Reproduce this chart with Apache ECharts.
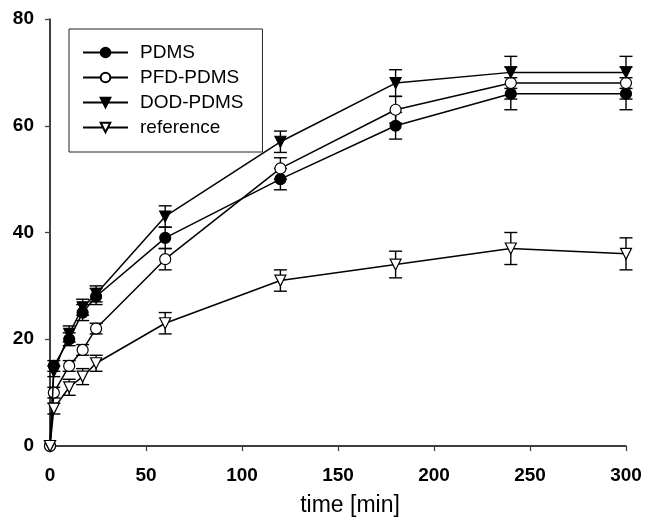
<!DOCTYPE html>
<html>
<head>
<meta charset="utf-8">
<script src="https://cdn.jsdelivr.net/npm/echarts@6/dist/echarts.min.js"></script>
<style>
  html, body { margin: 0; padding: 0; background: #fff; }
  #chart { width: 645px; height: 522px; }
</style>
</head>
<body>
<div id="chart"></div>
<script>
// time points [min]
var times = [0, 2, 10, 17, 24, 60, 120, 180, 240, 300];

// values and error bars
var pdms     = [0, 15, 20, 25, 28, 39, 50, 60, 66, 66];
var pdmsErr  = [0, 1, 1.2, 1.5, 1.5, 2, 2, 2.5, 3, 3];
var pfd      = [0, 10, 15, 18, 22, 35, 52, 63, 68, 68];
var pfdErr   = [0, 1, 1, 1, 1, 2, 2, 2.5, 3, 3];
var dod      = [0, 14, 21, 26, 28.5, 43, 57, 68, 70, 70];
var dodErr   = [0, 1, 1.5, 1.5, 1.5, 2, 2, 2.5, 3, 3];
var refv     = [0, 7, 11, 13, 15.5, 23, 31, 34, 37, 36];
var refErr   = [0, 1, 1.5, 1.5, 1.5, 2, 2, 2.5, 3, 3];

var xTicks = [0, 50, 100, 150, 200, 250, 300];
var yTicks = [0, 20, 40, 60, 80];

var myChart = echarts.init(document.getElementById('chart'));

function pts(vals) {
    return times.map(function (t, i) { return [t, vals[i]]; });
}
function errPts(vals, errs) {
    return times.map(function (t, i) { return [t, vals[i], errs[i]]; });
}

// vertical bar with caps
function renderErr(params, api) {
    var x = api.value(0), y = api.value(1), e = api.value(2);
    if (!e) return;
    var top = api.coord([x, y + e]);
    var bot = api.coord([x, y - e]);
    var w = 6.5;
    var st = { stroke: '#000', lineWidth: 1.4 };
    return {
        type: 'group',
        children: [
            { type: 'line', shape: { x1: top[0], y1: top[1], x2: bot[0], y2: bot[1] }, style: st },
            { type: 'line', shape: { x1: top[0] - w, y1: top[1], x2: top[0] + w, y2: top[1] }, style: st },
            { type: 'line', shape: { x1: bot[0] - w, y1: bot[1], x2: bot[0] + w, y2: bot[1] }, style: st }
        ]
    };
}

function errSeries(vals, errs, z) {
    return {
        type: 'custom',
        renderItem: renderErr,
        data: errPts(vals, errs),
        encode: { x: 0, y: 1 },
        clip: false,
        silent: true,
        z: z
    };
}

function lineSeries(name, vals, symbol, fill, rot, size, z) {
    return {
        name: name,
        type: 'line',
        data: pts(vals),
        symbol: symbol,
        symbolSize: size,
        symbolRotate: rot,
        showAllSymbol: true,
        clip: false,
        lineStyle: { color: '#000', width: 1.5 },
        itemStyle: { color: fill, borderColor: '#000', borderWidth: 1.2 },
        emphasis: { disabled: true },
        z: z
    };
}

var opt = {
    animation: false,
    grid: { left: 50, right: 19, top: 19, bottom: 73 },
    legend: {
        orient: 'vertical',
        left: 69,
        top: 29,
        padding: [14, 19, 15, 13],
        itemGap: 6,
        itemWidth: 45,
        itemHeight: 12,
        borderColor: '#222',
        borderWidth: 1,
        borderRadius: 0,
        textStyle: { fontFamily: 'Liberation Sans', fontSize: 19, color: '#000', padding: [0, 0, 0, 7] },
        data: ['PDMS', 'PFD-PDMS', 'DOD-PDMS', 'reference']
    },
    xAxis: {
        type: 'value',
        min: 0,
        max: 300,
        interval: 50,
        name: 'time [min]',
        nameLocation: 'middle',
        nameGap: 48,
        nameTextStyle: { fontFamily: 'Liberation Sans', fontSize: 23, color: '#000', padding: [0, 0, 0, 24] },
        axisLine: { lineStyle: { color: '#000', width: 1.5 } },
        axisTick: { show: true, length: 5, lineStyle: { color: '#444', width: 1.3 } },
        axisLabel: {
            fontFamily: 'Liberation Sans', fontSize: 19, fontWeight: 'bold', color: '#000', margin: 20,
            formatter: function (v) { return xTicks.indexOf(v) >= 0 ? String(v) : ''; }
        },
        splitLine: { show: false }
    },
    yAxis: {
        type: 'value',
        min: 0,
        max: 80,
        interval: 20,
        axisLine: { show: true, lineStyle: { color: '#000', width: 1.5 } },
        axisTick: { show: true, length: 5, lineStyle: { color: '#444', width: 1.3 } },
        axisLabel: {
            fontFamily: 'Liberation Sans', fontSize: 19, fontWeight: 'bold', color: '#000', margin: 16,
            formatter: function (v) { return yTicks.indexOf(v) >= 0 ? String(v) : ''; }
        },
        splitLine: { show: false }
    },
    series: [
        errSeries(pdms, pdmsErr, 2),
        errSeries(pfd, pfdErr, 2),
        errSeries(dod, dodErr, 2),
        errSeries(refv, refErr, 2),
        lineSeries('PDMS', pdms, 'circle', '#000', 0, 11, 3),
        lineSeries('PFD-PDMS', pfd, 'circle', '#fff', 0, 11, 4),
        lineSeries('DOD-PDMS', dod, 'triangle', '#000', 180, 11, 5),
        lineSeries('reference', refv, 'triangle', '#fff', 180, 11, 6)
    ]
};

myChart.setOption(opt);
</script>
</body>
</html>
